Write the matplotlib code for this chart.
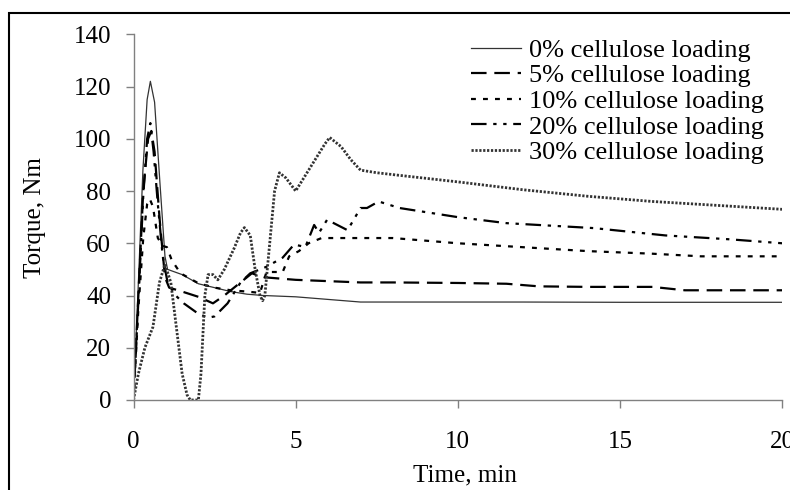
import matplotlib
matplotlib.use("Agg")
import matplotlib.pyplot as plt
from matplotlib.patches import Rectangle

# -------------------------------
# data
# -------------------------------
t0 = [0, 0.15, 0.29, 0.42, 0.52, 0.65, 0.81, 0.97, 1.05, 1.5, 2.0, 2.5, 3.0, 3.5, 4.0,
      5.0, 6.0, 6.5, 7.0, 8.0, 10, 12, 15, 18, 20]
v0 = [0, 45, 88, 115, 122, 114, 84, 55, 50, 48, 44.5, 43, 41.5, 40.5, 40,
      39.5, 38.5, 38, 37.5, 37.5, 37.5, 37.5, 37.4, 37.4, 37.4]

t5 = [0, 0.15, 0.3, 0.45, 0.55, 0.65, 0.8, 0.97, 1.1, 1.5, 2.0, 2.45, 2.8, 3.3, 3.65,
      4.0, 5.0, 6.0, 7.0, 8.0, 10, 11.5, 12.5, 14, 16, 17, 18, 20]
v5 = [0, 40, 80, 100, 103, 95, 70, 47, 43, 41.5, 39.5, 37, 40, 45, 48.5,
      47, 46, 45.5, 45, 45, 44.8, 44.5, 43.5, 43.3, 43.3, 42, 42, 42]

t10 = [0, 0.15, 0.3, 0.42, 0.5, 0.6, 0.75, 0.9, 1.03, 1.18, 1.45, 2.0, 2.5, 3.0, 3.5,
       3.9, 4.0, 4.1, 4.6, 4.8, 5.1, 5.4, 5.8, 6.5, 8.0, 10, 12, 14, 16, 17.5, 20]
v10 = [0, 35, 62, 75, 77, 74, 62, 59, 58.5, 53.5, 48.5, 44.7, 43, 42, 41.5,
       41, 45, 49, 49, 55, 57, 60, 62, 62, 62, 60, 58.5, 57, 56, 55, 55]

t20 = [0, 0.15, 0.3, 0.42, 0.52, 0.62, 0.75, 0.9, 1.05, 1.3, 1.55, 2.0, 2.3, 2.5, 2.9,
       3.3, 3.6, 4.1, 4.6, 4.95, 5.3, 5.57, 5.72, 5.97, 6.6, 7.0, 7.2, 7.56, 8.2,
       10, 11.5, 14.2, 16.4, 18.4, 20]
v20 = [0, 38, 78, 100, 106, 95, 75, 55, 45, 40, 37, 33, 31.5, 32, 37,
       45, 48.5, 51, 54.5, 59.5, 58.6, 67, 64, 69, 65, 73.5, 73.5, 76, 73.5,
       70, 67.7, 65.8, 63, 61.5, 60]

t30 = [0, 0.15, 0.35, 0.6, 0.8, 0.97, 1.15, 1.3, 1.5, 1.65, 1.75, 2.0, 2.08, 2.2, 2.3,
       2.45, 2.6, 2.8, 3.1, 3.3, 3.42, 3.6, 3.75, 3.9, 3.98, 4.05, 4.2, 4.35, 4.5,
       4.7, 5.0, 5.3, 5.6, 5.9, 6.05, 6.4, 6.7, 7.0, 7.5, 8.2, 10, 12, 14, 16, 18, 20]
v30 = [0, 10, 20, 28, 45, 52, 45, 30, 10, 2, 0, 0, 10, 40, 48,
       48, 46, 50, 58, 64, 66, 63, 50, 40, 38, 40, 60, 80, 87,
       85, 80, 86, 92, 98, 100.5, 97, 92, 88, 87, 86, 83.5, 80.5, 78, 76, 74.5, 73]

labels = ["0% cellulose loading", "5% cellulose loading", "10% cellulose loading",
          "20% cellulose loading", "30% cellulose loading"]

# -------------------------------
# plot
# -------------------------------
plt.rcParams["font.family"] = ["Liberation Serif", "DejaVu Serif"]

fig = plt.figure(figsize=(7.9, 4.9), dpi=100)
ax = fig.add_axes([0.169, 0.1837, 0.821, 0.7463])

ax.plot(t0, v0, color="#333333", lw=0.9, label=labels[0])
ax.plot(t5, v5, color="black", lw=1.6, dashes=(7, 3.5), label=labels[1])
ax.plot(t10, v10, color="black", lw=1.6, dashes=(2.2, 3.2), label=labels[2])
ax.plot(t20, v20, color="black", lw=1.6, dashes=(7, 3, 1.5, 3, 1.5, 3), label=labels[3])
ax.plot(t30, v30, color="#333333", lw=2.0, dashes=(0.8, 0.6), label=labels[4])

ax.set_xlim(0, 20)
ax.set_ylim(0, 140)
ax.set_xticks([0, 5, 10, 15, 20])
ax.set_yticks(range(0, 141, 20))

for side in ["top", "right"]:
    ax.spines[side].set_visible(False)
for side in ["left", "bottom"]:
    ax.spines[side].set_color("#808080")
    ax.spines[side].set_linewidth(1.0)

ax.tick_params(axis="both", colors="#808080", labelcolor="black", labelsize=18,
               length=6, width=1.0, direction="out")
ax.tick_params(axis="x", pad=16)
ax.tick_params(axis="y", pad=10)

ax.set_xlabel("Time, min", fontsize=18)
ax.set_ylabel("Torque, Nm", fontsize=18)
ax.xaxis.set_label_coords(0.511, -0.175)
ax.yaxis.set_label_coords(-0.135, 0.5)

ax.legend(loc="upper left", bbox_to_anchor=(0.52, 0.989), frameon=False, fontsize=19,
          handlelength=1.9, handletextpad=0.3, labelspacing=0.08, borderpad=0,
          borderaxespad=0)

# frame around the whole picture
fig.patches.append(Rectangle((9 / 790, -0.2), 1.2, 1.2 - 13 / 490,
                             transform=fig.transFigure, fill=False,
                             edgecolor="black", lw=1.5, clip_on=False))

fig.savefig("out.png", dpi=100)
